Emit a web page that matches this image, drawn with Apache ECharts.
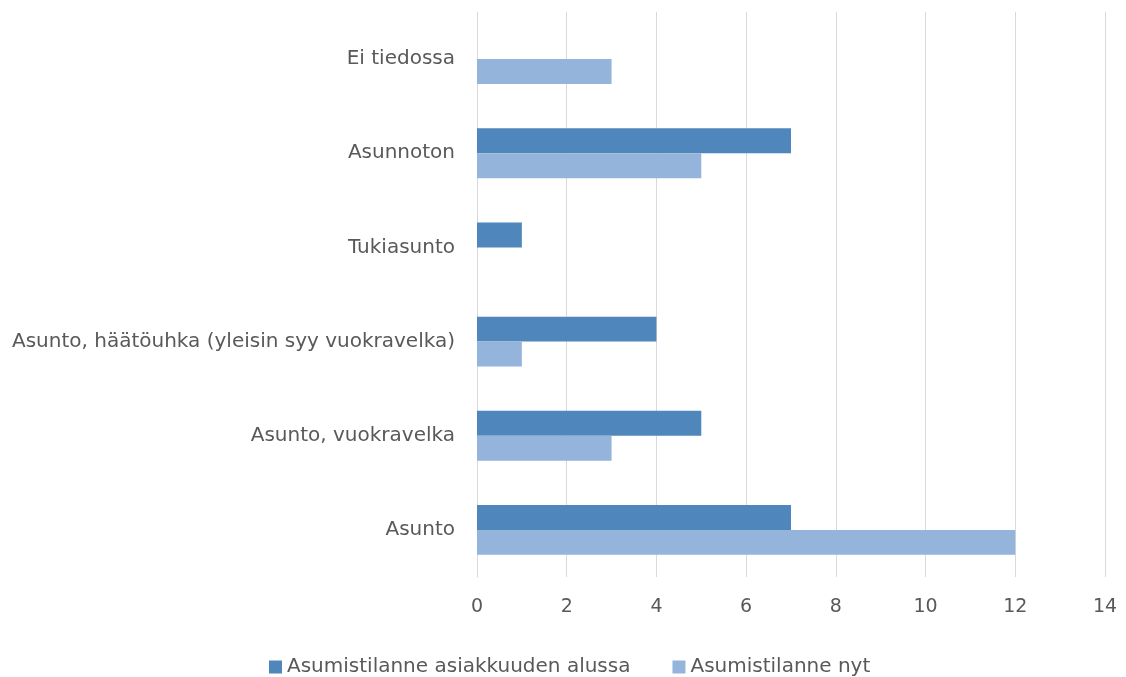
<!DOCTYPE html>
<html>
<head>
<meta charset="utf-8">
<script src="https://cdn.jsdelivr.net/npm/echarts@6/dist/echarts.min.js"></script>
<style>
  html, body { margin: 0; padding: 0; background: #fff; }
  #chart { width: 1126px; height: 677px; }
</style>
</head>
<body>
<div id="chart"></div>
<script>
// categories bottom -> top
var categories = ['Asunto', 'Asunto, vuokravelka', 'Asunto, häätöuhka (yleisin syy vuokravelka)', 'Tukiasunto', 'Asunnoton', 'Ei tiedossa'];
var seriesNames = ['Asumistilanne asiakkuuden alussa', 'Asumistilanne nyt'];
var alussa = [7, 5, 4, 1, 7, null];
var nyt = [12, 3, 1, null, 5, 3];
var ticks = [0, 2, 4, 6, 8, 10, 12, 14];

var textColor = '#595959';
var font = 'DejaVu Sans';

var chart = echarts.init(document.getElementById('chart'));
chart.setOption({
  animation: false,
  textStyle: { fontFamily: font },
  grid: { left: 477, right: 21, top: 12, bottom: 100 },
  legend: {
    top: 652,
    left: 264,
    itemWidth: 13,
    itemHeight: 13,
    itemGap: 42,
    icon: 'rect',
    textStyle: { color: textColor, fontSize: 20, fontFamily: font },
    data: seriesNames
  },
  xAxis: {
    type: 'value',
    min: ticks[0],
    max: ticks[ticks.length - 1],
    interval: 2,
    axisLine: { show: false },
    axisTick: { show: false },
    splitLine: { lineStyle: { color: '#d9d9d9', width: 1 } },
    axisLabel: { color: textColor, fontSize: 19, margin: 21 }
  },
  yAxis: {
    type: 'category',
    data: categories,
    axisLine: { show: true, lineStyle: { color: '#d9d9d9' } },
    axisTick: { show: false },
    axisLabel: { color: textColor, fontSize: 20, margin: 22 }
  },
  series: [
    {
      name: seriesNames[0],
      type: 'bar',
      data: alussa,
      barGap: '0%',
      barCategoryGap: '47%',
      itemStyle: { color: '#4f87bc' }
    },
    {
      name: seriesNames[1],
      type: 'bar',
      data: nyt,
      barGap: '0%',
      barCategoryGap: '47%',
      itemStyle: { color: '#95b4dc' }
    }
  ]
});
</script>
</body>
</html>
